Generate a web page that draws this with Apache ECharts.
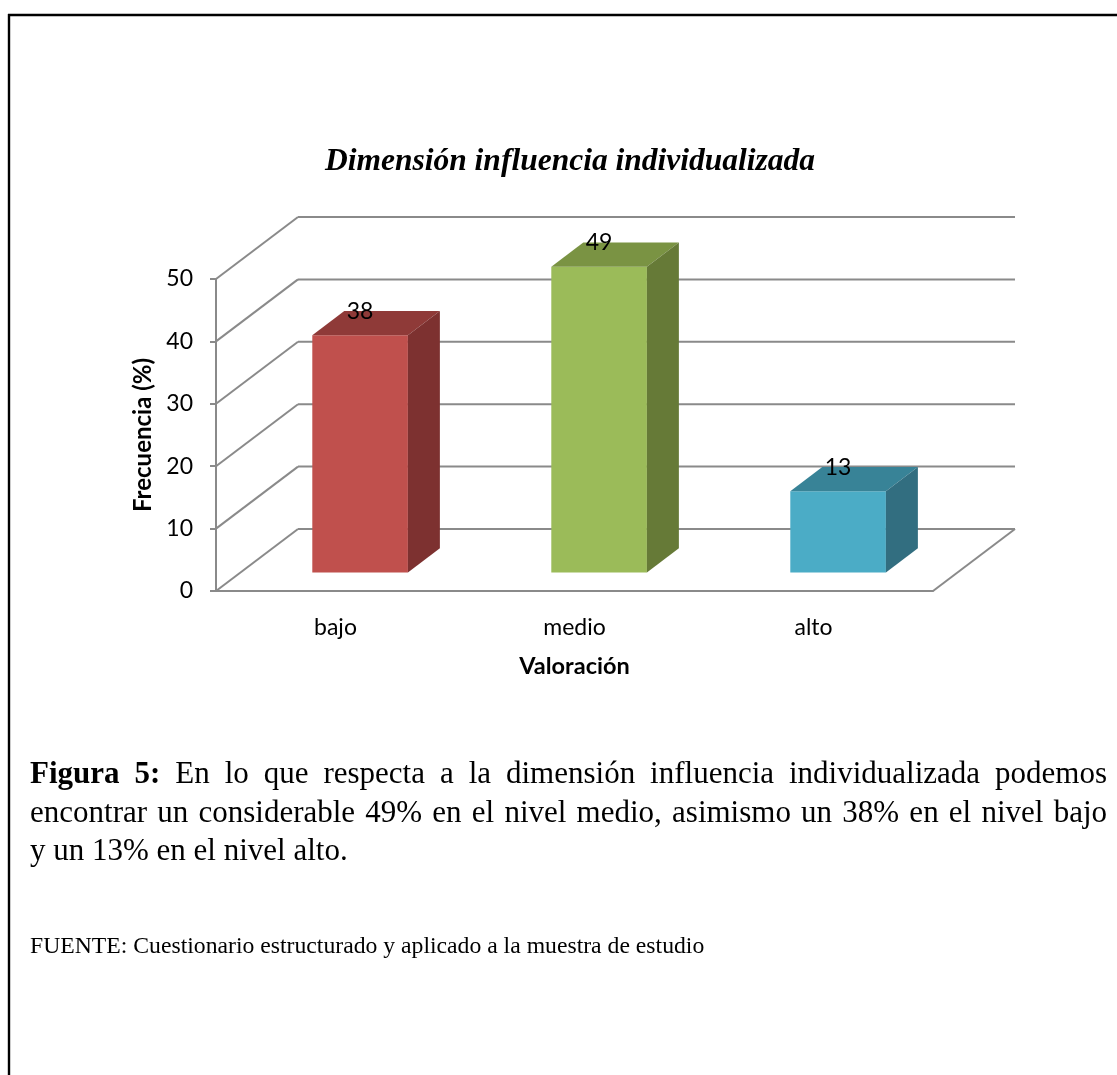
<!DOCTYPE html>
<html>
<head>
<meta charset="utf-8">
<script src="https://cdn.jsdelivr.net/npm/echarts@6/dist/echarts.min.js"></script>
<style>
  html, body { margin: 0; padding: 0; background: #ffffff; }
  #chart { width: 1117px; height: 1075px; }
</style>
</head>
<body>
<div id="chart"></div>
<script>
// ---- data ----
const categories = ['bajo', 'medio', 'alto'];
const values = [38, 49, 13];
const yTicks = [0, 10, 20, 30, 40, 50];

// ---- texts ----
const titleText = 'Dimensión influencia individualizada';
const xName = 'Valoración';
const yName = 'Frecuencia (%)';
const captionLead = ['Figura', '5:'];
const captionLines = [
  'En lo que respecta a la dimensión influencia individualizada podemos',
  'encontrar un considerable 49% en el nivel medio, asimismo un 38% en el nivel bajo',
  'y un 13% en el nivel alto.'
];
const sourceText = 'FUENTE: Cuestionario estructurado y aplicado a la muestra de estudio';

// ---- styling ----
const faceColors = [
  { front: '#C0504D', top: '#8F3A38', side: '#7D3130' },
  { front: '#9BBB59', top: '#7A9343', side: '#667A37' },
  { front: '#4BACC6', top: '#388397', side: '#326E80' }
];
const GRID_GRAY = '#8a8a8a';
const SANS = 'Lato';
const SERIF = 'Liberation Serif';

// 3D depth of the plot box (pixel offset of the back wall from the front plane)
const DEPTH_DX = 82;
const DEPTH_DY = -62;
// bars occupy this slice of the depth, and this share of each category band
const BAR_FRONT = 0.3;
const BAR_BACK = 0.69;
const BAR_RATIO = 0.4;

const wallLine = { stroke: GRID_GRAY, lineWidth: 2 };

function renderWall(params, api) {
  const cs = params.coordSys;
  const v = api.value(1);
  const y = api.coord([0, v])[1];
  const xl = cs.x;
  const xr = cs.x + cs.width;
  const children = [
    { type: 'line', shape: { x1: xl, y1: y, x2: xl + DEPTH_DX, y2: y + DEPTH_DY }, style: wallLine },
    { type: 'line', shape: { x1: xl + DEPTH_DX, y1: y + DEPTH_DY, x2: xr + DEPTH_DX, y2: y + DEPTH_DY }, style: wallLine }
  ];
  if (v === yTicks[0]) {
    children.push({ type: 'line', shape: { x1: xr, y1: y, x2: xr + DEPTH_DX, y2: y + DEPTH_DY }, style: wallLine });
  }
  return { type: 'group', children };
}

function renderBar(params, api) {
  const i = api.value(0);
  const v = api.value(1);
  const top = api.coord([i, v]);
  const base = api.coord([i, 0]);
  const band = api.size([1, 0])[0];
  const w = band * BAR_RATIO;
  const fx = DEPTH_DX * BAR_FRONT, fy = DEPTH_DY * BAR_FRONT;
  const ddx = DEPTH_DX * (BAR_BACK - BAR_FRONT), ddy = DEPTH_DY * (BAR_BACK - BAR_FRONT);
  const x0 = top[0] - w / 2 + fx, x1 = top[0] + w / 2 + fx;
  const yt = top[1] + fy, yb = base[1] + fy;
  const c = faceColors[params.dataIndex];
  return {
    type: 'group',
    children: [
      { type: 'polygon', shape: { points: [[x0, yt], [x1, yt], [x1, yb], [x0, yb]] }, style: { fill: c.front } },
      { type: 'polygon', shape: { points: [[x0, yt], [x1, yt], [x1 + ddx, yt + ddy], [x0 + ddx, yt + ddy]] }, style: { fill: c.top } },
      { type: 'polygon', shape: { points: [[x1, yt], [x1 + ddx, yt + ddy], [x1 + ddx, yb + ddy], [x1, yb]] }, style: { fill: c.side } },
      {
        type: 'text', x: (x0 + x1) / 2, y: yt + ddy, z2: 10,
        style: {
          text: String(v), fontFamily: SANS, fontSize: 23, fill: '#000',
          align: 'center', verticalAlign: 'middle', textAlign: 'center', textVerticalAlign: 'middle'
        }
      }
    ]
  };
}

// ---- caption (justified paragraph) ----
const TEXT_LEFT = 30;
const TEXT_RIGHT = 1107;
const CAPTION_SIZE = 31;
const measureCtx = document.createElement('canvas').getContext('2d');
function fontString(bold, size) {
  return (bold ? 'bold ' : '') + size + 'px "' + SERIF + '"';
}
function measure(text, bold) {
  measureCtx.font = fontString(bold, CAPTION_SIZE);
  return measureCtx.measureText(text).width;
}
function captionLine(words, y, justify) {
  const widths = words.map(w => measure(w.t, w.bold));
  const total = widths.reduce((a, b) => a + b, 0);
  const gap = justify ? (TEXT_RIGHT - TEXT_LEFT - total) / (words.length - 1) : measure(' ', false);
  let x = TEXT_LEFT;
  return words.map((w, k) => {
    const el = {
      type: 'text', x: x, y: y,
      style: {
        text: w.t, fontFamily: SERIF, fontSize: CAPTION_SIZE, fontWeight: w.bold ? 'bold' : 'normal', fill: '#000',
        align: 'left', verticalAlign: 'middle', textAlign: 'left', textVerticalAlign: 'middle'
      }
    };
    x += widths[k] + gap;
    return el;
  });
}
const lineYs = [775, 814, 852];
const captionEls = [];
captionLines.forEach((line, k) => {
  let words = line.split(' ').map(t => ({ t, bold: false }));
  if (k === 0) words = captionLead.map(t => ({ t, bold: true })).concat(words);
  captionEls.push(...captionLine(words, lineYs[k], k < captionLines.length - 1));
});

const chart = echarts.init(document.getElementById('chart'), null, { renderer: 'canvas' });
chart.setOption({
  animation: false,
  backgroundColor: '#ffffff',
  grid: { left: 216, top: 279, width: 717, height: 312, containLabel: false },
  xAxis: {
    type: 'category',
    data: categories,
    axisLine: { show: true, lineStyle: { color: GRID_GRAY, width: 2 } },
    axisTick: { show: false },
    axisLabel: { color: '#000', fontFamily: SANS, fontSize: 23, margin: 25 },
    splitLine: { show: false },
    name: xName,
    nameLocation: 'middle',
    nameGap: 63,
    nameTextStyle: { color: '#000', fontFamily: SANS, fontSize: 23.5, fontWeight: 'bold' }
  },
  yAxis: {
    type: 'value',
    min: yTicks[0],
    max: yTicks[yTicks.length - 1],
    interval: yTicks[1] - yTicks[0],
    axisLine: { show: true, lineStyle: { color: GRID_GRAY, width: 2 } },
    axisTick: { show: true, length: 6, lineStyle: { color: GRID_GRAY, width: 2 } },
    axisLabel: { color: '#000', fontFamily: SANS, fontSize: 23, margin: 23 },
    splitLine: { show: false },
    name: yName,
    nameLocation: 'middle',
    nameRotate: 90,
    nameGap: 57,
    nameTextStyle: { color: '#000', fontFamily: SANS, fontSize: 24, fontWeight: 'bold' }
  },
  series: [
    {
      type: 'custom',
      name: 'walls',
      renderItem: renderWall,
      data: yTicks.map(v => [0, v]),
      z: 1,
      silent: true
    },
    {
      type: 'custom',
      name: 'Frecuencia',
      renderItem: renderBar,
      data: values.map((v, i) => [i, v]),
      encode: { x: 0, y: 1 },
      z: 3
    }
  ],
  graphic: [
    // page frame
    { type: 'line', shape: { x1: 8, y1: 15, x2: 1117, y2: 15 }, style: { stroke: '#000', lineWidth: 2.4 } },
    { type: 'line', shape: { x1: 9, y1: 14, x2: 9, y2: 1075 }, style: { stroke: '#000', lineWidth: 2.4 } },
    {
      type: 'text', x: 570, y: 162,
      style: {
        text: titleText, fontFamily: SERIF, fontSize: 31.5, fontStyle: 'italic', fontWeight: 'bold', fill: '#000',
        align: 'center', verticalAlign: 'middle', textAlign: 'center', textVerticalAlign: 'middle'
      }
    },
    ...captionEls,
    {
      type: 'text', x: TEXT_LEFT, y: 947,
      style: {
        text: sourceText, fontFamily: SERIF, fontSize: 23.7, fill: '#000',
        align: 'left', verticalAlign: 'middle', textAlign: 'left', textVerticalAlign: 'middle'
      }
    }
  ]
});
</script>
</body>
</html>
